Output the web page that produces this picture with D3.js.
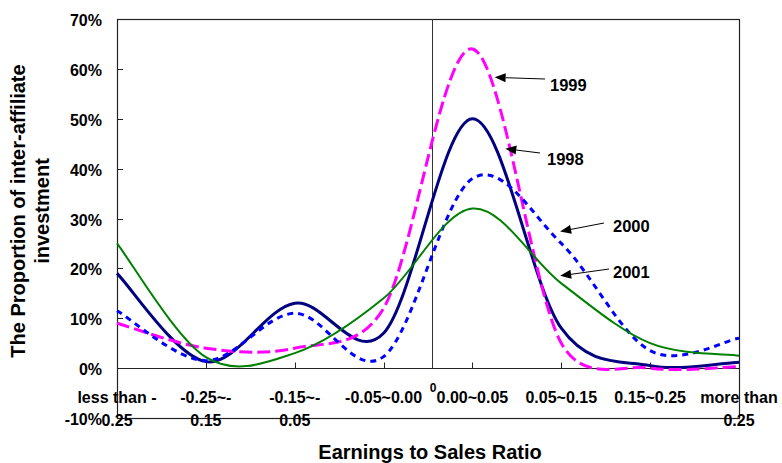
<!DOCTYPE html>
<html>
<head>
<meta charset="utf-8">
<script src="https://cdn.jsdelivr.net/npm/d3@7"></script>
<style>
  html, body { margin: 0; padding: 0; background: #fff; }
  svg { display: block; font-family: "Liberation Sans", Arial, sans-serif; font-weight: bold; }
</style>
</head>
<body>
<svg id="chart" width="782" height="463"></svg>
<script>
// ---- data ----
const categories = ["less than -0.25", "-0.25~-0.15", "-0.15~-0.05", "-0.05~0.00",
                    "0.00~0.05", "0.05~0.15", "0.15~0.25", "more than 0.25"];
const categoryLabelLines = [["less than -", "0.25"], ["-0.25~-", "0.15"], ["-0.15~-", "0.05"],
                            ["-0.05~0.00"], ["0.00~0.05"], ["0.05~0.15"], ["0.15~0.25"], ["more than", "0.25"]];
const yTicks = [-10, 0, 10, 20, 30, 40, 50, 60, 70];
const values1998 = [19, 1.3, 13, 7, 50, 8, 0.5, 1.2];
const values1999 = [9, 4, 4, 12, 64, 5, 0, 0.3];
const values2000 = [11.5, 1.5, 11, 2.3, 38, 25, 3.5, 6];
const values2001 = [25, 2.2, 3, 14, 32, 17, 5, 2.5];
const seriesNames = ["1998", "1999", "2000", "2001"];

(function () {
// ---- layout ----
const svg = d3.select("#chart");
const pLeft = 117, pRight = 739, pTop = 19, pBottom = 418;

const x = d3.scalePoint().domain(categories).range([pLeft, pRight]).padding(0);
const xi = d3.scaleLinear().domain([0, categories.length - 1]).range([pLeft, pRight]);
const y = d3.scaleLinear().domain([-10, 70]).range([pBottom, pTop]);

const styles = {
  "1998": { color: "#000080", width: 3, dash: null },
  "1999": { color: "#FF00FF", width: 3, dash: "13,5" },
  "2000": { color: "#0000FF", width: 3, dash: "6,5" },
  "2001": { color: "#008000", width: 2, dash: null }
};
const seriesData = { "1998": values1998, "1999": values1999, "2000": values2000, "2001": values2001 };

// spreadsheet-style smoothing: Catmull-Rom tangents (1/6), arms capped at half the adjacent segment
function smoothPath(pts) {
  const n = pts.length;
  const dist = (a, b) => Math.hypot(b[0] - a[0], b[1] - a[1]);
  const tang = pts.map((p, i) => {
    const a = pts[Math.max(0, i - 1)], b = pts[Math.min(n - 1, i + 1)];
    return [(b[0] - a[0]) / 6, (b[1] - a[1]) / 6];
  });
  const arm = (i, segLen) => {
    const t = tang[i], L = Math.hypot(t[0], t[1]);
    const k = L > segLen / 2 ? (segLen / 2) / L : 1;
    return [t[0] * k, t[1] * k];
  };
  let d = `M${pts[0][0]},${pts[0][1]}`;
  for (let i = 0; i < n - 1; i++) {
    const p1 = pts[i], p2 = pts[i + 1], L = dist(p1, p2);
    const a1 = arm(i, L), a2 = arm(i + 1, L);
    d += `C${p1[0] + a1[0]},${p1[1] + a1[1]},${p2[0] - a2[0]},${p2[1] - a2[1]},${p2[0]},${p2[1]}`;
  }
  return d;
}

// frame
svg.append("rect")
  .attr("x", pLeft + 0.5).attr("y", pTop + 0.5)
  .attr("width", pRight - pLeft).attr("height", pBottom - pTop)
  .attr("fill", "none").attr("stroke", "#222").attr("stroke-width", 1.2);

// y ticks (inside) and labels
const gy = svg.append("g");
yTicks.forEach(t => {
  gy.append("line")
    .attr("x1", pLeft).attr("x2", pLeft + 6)
    .attr("y1", Math.round(y(t)) + 0.5).attr("y2", Math.round(y(t)) + 0.5)
    .attr("stroke", "#222");
  gy.append("text")
    .attr("x", 102).attr("y", y(t) + 7)
    .attr("text-anchor", "end").attr("font-size", 16)
    .text(t + "%");
});

// category axis at 0
const y0 = Math.round(y(0)) + 0.5;
svg.append("line")
  .attr("x1", pLeft).attr("x2", pRight).attr("y1", y0).attr("y2", y0)
  .attr("stroke", "#222");
categories.forEach((c, i) => {
  svg.append("line")
    .attr("x1", Math.round(x(c)) + 0.5).attr("x2", Math.round(x(c)) + 0.5)
    .attr("y1", y0).attr("y2", y0 - 6).attr("stroke", "#222");
  const t = svg.append("text")
    .attr("text-anchor", "middle").attr("font-size", 16);
  categoryLabelLines[i].forEach((ln, k) => {
    t.append("tspan").attr("x", x(c)).attr("y", 403 + k * 23).text(ln);
  });
});

// vertical zero divider
const zeroIndex = 3.545;
svg.append("line")
  .attr("x1", Math.round(xi(zeroIndex)) + 0.5).attr("x2", Math.round(xi(zeroIndex)) + 0.5)
  .attr("y1", pTop).attr("y2", y0).attr("stroke", "#333").attr("stroke-width", 1);
svg.append("text")
  .attr("x", xi(zeroIndex) + 1).attr("y", 392)
  .attr("text-anchor", "middle").attr("font-size", 12)
  .text("0");

// series lines
seriesNames.forEach(name => {
  const s = styles[name];
  const pts = seriesData[name].map((v, i) => [x(categories[i]), y(v)]);
  svg.append("path")
    .datum(seriesData[name])
    .attr("d", smoothPath(pts))
    .attr("fill", "none")
    .attr("stroke", s.color)
    .attr("stroke-width", s.width)
    .attr("stroke-dasharray", s.dash)
    .attr("stroke-linejoin", "round");
});

// annotations (arrow tip in data coords, tail & text in px)
const annotations = [
  { label: "1999", tipIdx: 4.25, tipVal: 58.3, tail: [545, 79], text: [550, 91] },
  { label: "1998", tipIdx: 4.37, tipVal: 44.0, tail: [540, 153], text: [547, 165] },
  { label: "2000", tipIdx: 4.987, tipVal: 27.4, tail: [604, 223], text: [613, 232] },
  { label: "2001", tipIdx: 4.987, tipVal: 18.5, tail: [609, 269], text: [613, 278] }
];
annotations.forEach(a => {
  const tx = xi(a.tipIdx), ty = y(a.tipVal);
  const [ax, ay] = a.tail;
  const ang = Math.atan2(ty - ay, tx - ax);
  const len = 11, hw = 4.5;
  const bx = tx - len * Math.cos(ang), by = ty - len * Math.sin(ang);
  svg.append("line")
    .attr("x1", ax).attr("y1", ay).attr("x2", bx).attr("y2", by)
    .attr("stroke", "#000").attr("stroke-width", 1);
  const p1 = [bx + hw * Math.sin(ang), by - hw * Math.cos(ang)];
  const p2 = [bx - hw * Math.sin(ang), by + hw * Math.cos(ang)];
  svg.append("path")
    .attr("d", `M${tx},${ty}L${p1[0]},${p1[1]}L${p2[0]},${p2[1]}Z`)
    .attr("fill", "#000");
  svg.append("text")
    .attr("x", a.text[0]).attr("y", a.text[1])
    .attr("font-size", 16.5)
    .text(a.label);
});

// axis titles
svg.append("text")
  .attr("x", 430).attr("y", 459)
  .attr("text-anchor", "middle").attr("font-size", 20)
  .text("Earnings to Sales Ratio");

const yt = svg.append("text")
  .attr("transform", "translate(0,211) rotate(-90)")
  .attr("text-anchor", "middle").attr("font-size", 20);
yt.append("tspan").attr("x", 0).attr("y", 25).text("The Proportion of inter-affiliate");
yt.append("tspan").attr("x", 0).attr("y", 49).text("investment");
})();
</script>
</body>
</html>
